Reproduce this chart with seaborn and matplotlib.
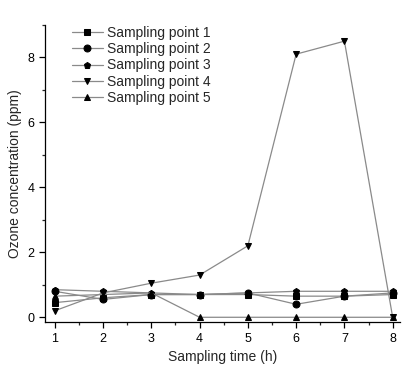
import matplotlib
matplotlib.use("Agg")
import matplotlib.pyplot as plt
import seaborn as sns
import pandas as pd
from matplotlib.ticker import MultipleLocator

sns.set_style("ticks")
plt.rcParams['font.family'] = ['Liberation Sans', 'DejaVu Sans']

hours = [1, 2, 3, 4, 5, 6, 7, 8]
sp1 = [0.45, 0.6, 0.7, 0.7, 0.7, 0.65, 0.65, 0.7]
sp2 = [0.8, 0.55, 0.7, 0.7, 0.75, 0.4, 0.65, 0.75]
sp3 = [0.85, 0.8, 0.75, 0.7, 0.75, 0.8, 0.8, 0.8]
sp4 = [0.2, 0.75, 1.05, 1.3, 2.2, 8.1, 8.5, 0.0]
sp5 = [0.65, 0.7, 0.75, 0.0, 0.0, 0.0, 0.0, 0.0]
labels = ["Sampling point 1", "Sampling point 2", "Sampling point 3",
          "Sampling point 4", "Sampling point 5"]
markers = ["s", "o", "p", "v", "^"]

fig = plt.figure(figsize=(4.14, 3.72), dpi=100)
ax = fig.add_axes([0.109, 0.134, 0.857, 0.799])

for vals, lab, mk in zip([sp1, sp2, sp3, sp4, sp5], labels, markers):
    df = pd.DataFrame({"t": hours, "c": vals})
    sns.lineplot(data=df, x="t", y="c", ax=ax, color="#8a8a8a", linewidth=0.9,
                 marker=mk, markersize=5, markerfacecolor="black",
                 markeredgecolor="black", label=lab)

ax.set_xlim(0.8, 8.15)
ax.set_ylim(-0.15, 9.0)
ax.xaxis.set_major_locator(MultipleLocator(1))
ax.xaxis.set_minor_locator(MultipleLocator(0.5))
ax.yaxis.set_major_locator(MultipleLocator(2))
ax.yaxis.set_minor_locator(MultipleLocator(1))
ax.tick_params(which="major", direction="out", length=4, width=0.9, labelsize=9, colors="black")
ax.tick_params(which="minor", direction="out", length=2.5, width=0.9)
for s in ["top", "right"]:
    ax.spines[s].set_visible(False)
for s in ["left", "bottom"]:
    ax.spines[s].set_linewidth(0.9)
    ax.spines[s].set_color("black")

ax.set_xlabel("Sampling time (h)", fontsize=10)
ax.set_ylabel("Ozone concentration (ppm)", fontsize=10)

leg = ax.legend(loc="upper left", bbox_to_anchor=(0.06, 1.015), frameon=False,
                fontsize=10, handlelength=2.2, handletextpad=0.35,
                labelspacing=0.16, borderaxespad=0.0)

fig.savefig("out.png", dpi=100)
